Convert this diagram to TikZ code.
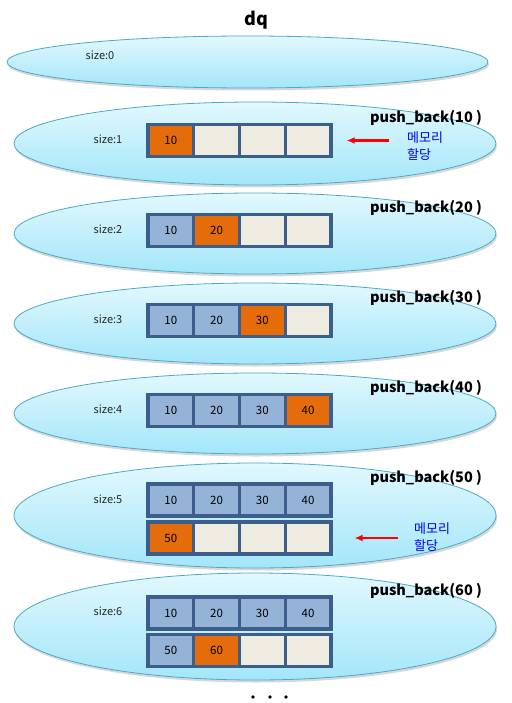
\documentclass[tikz,border=0pt]{standalone}
\usepackage{fontspec}
\setmainfont{Noto Sans CJK KR}
\usepackage{tikz}
\usetikzlibrary{arrows.meta,shapes.geometric,shadows}

\definecolor{ringtop}{HTML}{E2F8FE}
\definecolor{ringbottom}{HTML}{A3E6F9}
\definecolor{ringline}{HTML}{4BA9C6}
\definecolor{cellline}{HTML}{3B5E8C}
\definecolor{cellnewfill}{HTML}{E46C0A}
\definecolor{celloldfill}{HTML}{95B3D7}
\definecolor{cellfreefill}{HTML}{EEECE1}
\definecolor{allocblue}{HTML}{0000F0}

% one row of four cells: name, y, value/style list
\newcommand\cellrow[3]{%
  \foreach \v/\s [count=\i] in {#3}
    \node[cell, \s] (#1-\i) at (148+45.75*\i-22.875, #2) {\v};%
}

\begin{document}
\begin{tikzpicture}[
  x=1pt, y=-1pt,
  font=\fontsize{11}{13}\selectfont,
  level/.style={ellipse, draw=ringline, line width=0.8pt, top color=ringtop, bottom color=ringbottom,
    inner sep=0pt, drop shadow={shadow xshift=1pt, shadow yshift=-2.5pt, fill=black!35, opacity=0.45}},
  cell/.style={rectangle, draw=cellline, line width=3.2pt, minimum width=45.75pt, minimum height=32pt, inner sep=0pt,
    font=\fontsize{11.5}{13}\selectfont},
  cellnew/.style={fill=cellnewfill},
  cellold/.style={fill=celloldfill},
  cellfree/.style={fill=cellfreefill},
  sizelabel/.style={text=black!85},
  oplabel/.style={font=\fontsize{14.5}{16}\bfseries},
  alloc/.style={text=allocblue, font=\fontsize{13}{17}\selectfont, align=left, anchor=west, inner sep=0pt},
  allocarr/.style={-{Latex[length=8pt,width=7pt]}, red, line width=2.4pt}
]
  \useasboundingbox (0,0) rectangle (511,703);

  \node[font=\fontsize{18}{20}\bfseries] (title) at (256,20) {dq};

  % size 0
  \node[level, minimum width=481pt, minimum height=52pt] (lvl0) at (247.5,62) {};
  \node[sizelabel] (size0) at (100,55) {size:0};

  % size 1
  \node[level, minimum width=482pt, minimum height=83pt] (lvl1) at (255,143.5) {};
  \node[sizelabel] (size1) at (108,139) {size:1};
  \node[oplabel] (op1) at (426,118) {push\_back(10 )};
  \cellrow{rowa}{140.5}{10/cellnew, /cellfree, /cellfree, /cellfree}
  \node[alloc] (alloc1) at (407,146.5) {메모리\\할당};
  \draw[allocarr] ([xshift=-18pt]alloc1.west |- rowa-4) -- ([xshift=14pt]rowa-4.east);

  % size 2
  \node[level, minimum width=482pt, minimum height=81pt] (lvl2) at (255,233.5) {};
  \node[sizelabel] (size2) at (108,229) {size:2};
  \node[oplabel] (op2) at (426,208) {push\_back(20 )};
  \cellrow{rowb}{230.5}{10/cellold, 20/cellnew, /cellfree, /cellfree}

  % size 3
  \node[level, minimum width=482pt, minimum height=81pt] (lvl3) at (255,323.5) {};
  \node[sizelabel] (size3) at (108,319) {size:3};
  \node[oplabel] (op3) at (426,298) {push\_back(30 )};
  \cellrow{rowc}{320.5}{10/cellold, 20/cellold, 30/cellnew, /cellfree}

  % size 4
  \node[level, minimum width=482pt, minimum height=81pt] (lvl4) at (255,413.5) {};
  \node[sizelabel] (size4) at (108,409) {size:4};
  \node[oplabel] (op4) at (426,388) {push\_back(40 )};
  \cellrow{rowd}{410.5}{10/cellold, 20/cellold, 30/cellold, 40/cellnew}

  % size 5
  \node[level, minimum width=482pt, minimum height=105pt] (lvl5) at (255,515.5) {};
  \node[sizelabel] (size5) at (108,499) {size:5};
  \node[oplabel] (op5) at (426,478) {push\_back(50 )};
  \cellrow{rowe}{500}{10/cellold, 20/cellold, 30/cellold, 40/cellold}
  \cellrow{rowf}{538}{50/cellnew, /cellfree, /cellfree, /cellfree}
  \node[alloc] (alloc5) at (414,537.5) {메모리\\할당};
  \draw[allocarr] ([xshift=-16pt]alloc5.west |- rowf-4) -- ([xshift=22pt]rowf-4.east);

  % size 6
  \node[level, minimum width=482pt, minimum height=107pt] (lvl6) at (255,626.5) {};
  \node[sizelabel] (size6) at (108,611) {size:6};
  \node[oplabel] (op6) at (426,591) {push\_back(60 )};
  \cellrow{rowg}{613}{10/cellold, 20/cellold, 30/cellold, 40/cellold}
  \cellrow{rowh}{650.5}{50/cellold, 60/cellnew, /cellfree, /cellfree}

  \foreach \x in {253,270,286}
    \fill (\x,697) circle (1.8);
\end{tikzpicture}
\end{document}
